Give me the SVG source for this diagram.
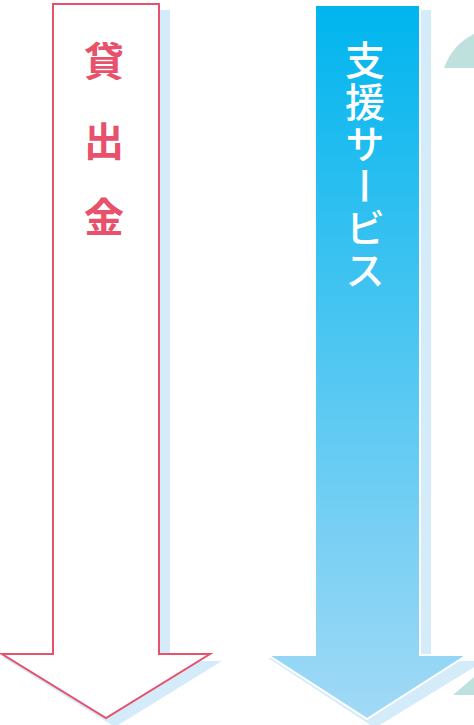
<svg xmlns="http://www.w3.org/2000/svg" width="474" height="725" viewBox="0 0 474 725">
  <defs>
    <linearGradient id="blueGrad" gradientUnits="userSpaceOnUse" x1="0" y1="5" x2="0" y2="719">
      <stop offset="0" stop-color="#00b5ee"/>
      <stop offset="1" stop-color="#a2d9f6"/>
    </linearGradient>
    <style>
      .shadow { fill: #d4ecf9; }
      .deco { fill: #bfe1de; }
      .loan-arrow { fill: #ffffff; stroke: #e8516b; stroke-width: 2; stroke-linejoin: miter; }
      .support-arrow { fill: url(#blueGrad); stroke: #ffffff; stroke-width: 2; stroke-linejoin: miter; }
      .loan-text { font-family: "Noto Sans CJK JP", "Noto Sans CJK SC", sans-serif; font-size: 40px; font-weight: 700; fill: #e8516b; text-anchor: middle; dominant-baseline: central; }
      .support-text { font-family: "Noto Sans CJK JP", "Noto Sans CJK SC", sans-serif; font-size: 40px; font-weight: 500; fill: #ffffff; writing-mode: vertical-rl; letter-spacing: 2px; }
    </style>
  </defs>

  <g id="decorations">
    <path class="deco" d="M444,68 A60,60 0 0 1 474,34 L474,68 Z"/>
    <polygon class="deco" points="453,695 474,677 474,695"/>
  </g>

  <g id="loan-node">
    <polygon class="shadow" points="2,657 63,657 63,10 170,10 170,661 222,661 115,727"/>
    <polygon class="loan-arrow" points="2,654 53,654 53,4 159,4 159,654 210,654 106,718"/>
    <text class="loan-text" x="104" y="59">貸</text>
    <text class="loan-text" x="104" y="139">出</text>
    <text class="loan-text" x="104" y="215">金</text>
  </g>

  <g id="support-node">
    <polygon class="shadow" points="268,658 322,658 322,10 431,10 431,661 484,661 375,728"/>
    <polygon class="support-arrow" points="268,655 315,655 315,5 420,5 420,655 467,655 367,719"/>
    <text class="support-text" x="365" y="40">支援サービス</text>
  </g>
</svg>
